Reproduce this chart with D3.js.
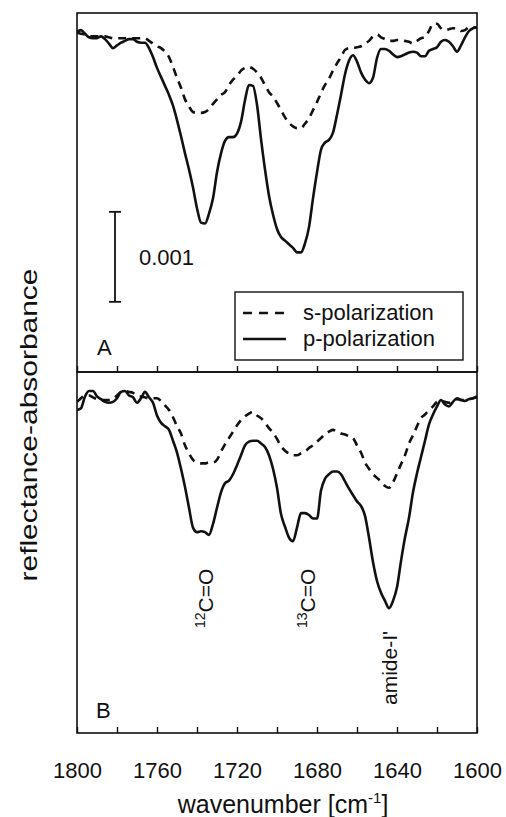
<!DOCTYPE html>
<html>
<head>
<meta charset="utf-8">
<script src="https://cdn.jsdelivr.net/npm/d3@7"></script>
<style>
  body { margin: 0; background: #fff; }
  svg text { font-family: "Liberation Sans", Arial, Helvetica, sans-serif; fill: #111; }
  .frame { fill: none; stroke: #111; stroke-width: 1.6; }
  .p-line { fill: none; stroke: #111; stroke-width: 2.6; stroke-linejoin: round; }
  .s-line { fill: none; stroke: #111; stroke-width: 2.6; stroke-dasharray: 8,6; }
</style>
</head>
<body>
<div id="chart"></div>
<script>
// sampling grid: every 2 cm-1 from 1800 down to 1600
const wavenumber = d3.range(1800, 1599, -2);

// reflectance-absorbance in units of 10^-3
// panel A
const pA = [0.09,0.11,0.07,0.03,0.02,0.02,0.04,0.01,-0.04,-0.09,
  -0.06,-0.03,-0.01,0.01,0.01,-0.02,-0.03,-0.03,-0.09,-0.19,
  -0.31,-0.41,-0.51,-0.61,-0.73,-0.89,-1.07,-1.26,-1.44,-1.64,
  -1.87,-2.03,-2.04,-1.93,-1.76,-1.47,-1.26,-1.12,-1.08,-1.08,
  -1.04,-0.91,-0.67,-0.50,-0.51,-0.72,-1.10,-1.44,-1.73,-1.94,
  -2.10,-2.19,-2.23,-2.27,-2.31,-2.36,-2.36,-2.26,-2.08,-1.76,
  -1.47,-1.22,-1.14,-1.11,-1.03,-0.83,-0.61,-0.38,-0.23,-0.17,
  -0.24,-0.36,-0.44,-0.48,-0.42,-0.20,-0.10,-0.10,-0.12,-0.16,
  -0.19,-0.18,-0.16,-0.14,-0.13,-0.14,-0.18,-0.18,-0.12,-0.10,
  -0.08,-0.02,0.00,-0.02,-0.07,-0.13,-0.06,0.03,0.10,0.13,
  0.14];
const sA = [0.08,0.07,0.06,0.04,0.04,0.04,0.04,0.04,0.03,0.02,
  0.02,0.02,0.02,0.02,0.02,0.02,0.02,0.02,-0.01,-0.04,
  -0.07,-0.09,-0.13,-0.19,-0.30,-0.42,-0.53,-0.66,-0.74,-0.80,
  -0.81,-0.81,-0.80,-0.77,-0.71,-0.66,-0.61,-0.58,-0.50,-0.44,
  -0.40,-0.34,-0.31,-0.30,-0.32,-0.36,-0.42,-0.50,-0.58,-0.63,
  -0.70,-0.78,-0.86,-0.92,-0.96,-0.98,-0.98,-0.93,-0.87,-0.78,
  -0.69,-0.59,-0.50,-0.43,-0.34,-0.26,-0.19,-0.11,-0.09,-0.09,
  -0.08,-0.07,-0.04,-0.01,0.04,0.06,0.03,0.01,-0.01,-0.01,
  0.00,0.00,-0.01,-0.02,-0.04,-0.01,0.02,0.03,0.10,0.18,
  0.18,0.13,0.11,0.12,0.13,0.13,0.10,0.11,0.14,0.14,
  0.14];
// panel B
const pB = [-0.12,-0.10,0.03,0.09,0.09,0.03,0.00,-0.03,-0.04,-0.03,
  0.01,0.08,0.09,0.04,0.02,-0.04,0.01,0.08,0.02,-0.04,
  -0.18,-0.26,-0.30,-0.34,-0.46,-0.59,-0.77,-0.97,-1.20,-1.42,
  -1.47,-1.46,-1.47,-1.50,-1.38,-1.20,-1.03,-0.93,-0.90,-0.83,
  -0.73,-0.62,-0.51,-0.47,-0.46,-0.46,-0.49,-0.53,-0.62,-0.77,
  -0.98,-1.27,-1.41,-1.53,-1.57,-1.42,-1.26,-1.26,-1.28,-1.32,
  -1.32,-1.01,-0.88,-0.83,-0.80,-0.80,-0.83,-0.91,-0.99,-1.06,
  -1.13,-1.18,-1.29,-1.53,-1.80,-2.01,-2.14,-2.23,-2.31,-2.23,
  -2.08,-1.79,-1.53,-1.31,-1.03,-0.82,-0.64,-0.46,-0.28,-0.17,
  -0.08,-0.01,-0.06,-0.08,-0.03,0.01,-0.01,-0.02,0.00,0.01,
  0.03];
const sB = [-0.03,0.01,0.04,0.04,0.02,0.00,-0.01,-0.01,-0.01,0.00,
  0.04,0.08,0.09,0.08,0.07,0.04,0.03,0.02,0.01,0.01,
  0.01,-0.02,-0.07,-0.12,-0.20,-0.30,-0.38,-0.51,-0.60,-0.67,
  -0.70,-0.71,-0.71,-0.70,-0.70,-0.67,-0.58,-0.50,-0.43,-0.36,
  -0.29,-0.23,-0.19,-0.16,-0.14,-0.18,-0.21,-0.26,-0.32,-0.37,
  -0.44,-0.52,-0.57,-0.60,-0.62,-0.62,-0.60,-0.58,-0.54,-0.51,
  -0.47,-0.43,-0.39,-0.36,-0.34,-0.36,-0.38,-0.39,-0.41,-0.43,
  -0.51,-0.59,-0.70,-0.77,-0.83,-0.87,-0.91,-0.96,-0.98,-0.92,
  -0.82,-0.72,-0.62,-0.49,-0.40,-0.30,-0.21,-0.17,-0.12,-0.08,
  -0.03,-0.02,-0.03,-0.04,-0.02,0.00,-0.01,-0.01,0.00,0.01,
  0.02];

const tickMinor = d3.range(1800, 1599, -20);
const tickLabels = [1800, 1760, 1720, 1680, 1640, 1600];
const legendLabels = ["s-polarization", "p-polarization"];
// band assignments in panel B: [wavenumber, superscript, text]
const bands = [[1736, "12", "C=O"], [1685, "13", "C=O"], [1644, "", "amide-I'"]];

const width = 506, height = 817;
const left = 77, right = 477, topA = 13, mid = 372, bottom = 733;

const svg = d3.select("#chart").append("svg")
  .attr("width", width).attr("height", height);

const x = d3.scaleLinear().domain([1800, 1600]).range([left, right]);
const yA = d3.scaleLinear().domain([-3.69, 0.30]).range([mid, topA]);
const yB = d3.scaleLinear().domain([-3.69, 0.30]).range([bottom, mid]);

function lineFor(y) {
  return d3.line()
    .x((d, i) => x(wavenumber[i]))
    .y(d => y(d))
    .curve(d3.curveMonotoneX);
}

// curves
svg.append("path").attr("class", "s-line").attr("d", lineFor(yA)(sA));
svg.append("path").attr("class", "p-line").attr("d", lineFor(yA)(pA));
svg.append("path").attr("class", "s-line").attr("d", lineFor(yB)(sB));
svg.append("path").attr("class", "p-line").attr("d", lineFor(yB)(pB));

// frames
svg.append("rect").attr("class", "frame")
  .attr("x", left).attr("y", topA).attr("width", right - left).attr("height", mid - topA);
svg.append("rect").attr("class", "frame")
  .attr("x", left).attr("y", mid).attr("width", right - left).attr("height", bottom - mid);

// inward ticks at the bottom of each panel
[mid, bottom].forEach(yPos => {
  const g = svg.append("g")
    .attr("transform", `translate(0,${yPos})`)
    .call(d3.axisBottom(x).tickValues(tickMinor).tickSizeInner(-6).tickSizeOuter(0).tickFormat(""));
  g.select(".domain").remove();
  g.selectAll("line").attr("stroke", "#111").attr("stroke-width", 1.4);
});

// tick labels
const lab = svg.append("g")
  .attr("transform", `translate(0,${bottom})`)
  .call(d3.axisBottom(x).tickValues(tickLabels).tickSize(0).tickPadding(29).tickFormat(d3.format("d")));
lab.select(".domain").remove();
lab.selectAll("text")
  .style("font-family", '"Liberation Sans", Arial, sans-serif')
  .style("font-size", "22px").attr("fill", "#111");

// axis titles
const xt = svg.append("text")
  .attr("x", 283).attr("y", 813)
  .attr("text-anchor", "middle")
  .style("font-size", "25px");
xt.append("tspan").text("wavenumber [cm");
xt.append("tspan").attr("dy", -10).style("font-size", "15px").text("-1");
xt.append("tspan").attr("dy", 10).text("]");

svg.append("text")
  .attr("transform", "translate(37,425) rotate(-90)")
  .attr("text-anchor", "middle")
  .attr("textLength", 313)
  .attr("lengthAdjust", "spacingAndGlyphs")
  .style("font-size", "24px")
  .text("reflectance-absorbance");

// panel letters
svg.append("text").attr("x", 97).attr("y", 355).style("font-size", "22px").text("A");
svg.append("text").attr("x", 96).attr("y", 718).style("font-size", "22px").text("B");

// scale bar 0.001
const barW = 1781, barTop = -1.91;
const bx = x(barW);
svg.append("line").attr("x1", bx).attr("x2", bx)
  .attr("y1", yA(barTop)).attr("y2", yA(barTop - 1))
  .attr("stroke", "#111").attr("stroke-width", 1.8);
[barTop, barTop - 1].forEach(v => {
  svg.append("line").attr("x1", bx - 6).attr("x2", bx + 6)
    .attr("y1", yA(v)).attr("y2", yA(v))
    .attr("stroke", "#111").attr("stroke-width", 1.8);
});
svg.append("text").attr("x", bx + 24).attr("y", 265)
  .style("font-size", "22px").text("0.001");

// legend
const lg = svg.append("g");
lg.append("rect").attr("x", 235).attr("y", 292).attr("width", 228).attr("height", 68)
  .attr("fill", "#fff").attr("stroke", "#111").attr("stroke-width", 1.4);
legendLabels.forEach((t, i) => {
  const yy = 313 + i * 26;
  lg.append("line").attr("class", i === 0 ? "s-line" : "p-line")
    .attr("x1", 243).attr("x2", 286).attr("y1", yy).attr("y2", yy)
    .style("stroke-dasharray", i === 0 ? "9,7" : null);
  lg.append("text").attr("x", 303).attr("y", yy + 7)
    .style("font-size", "22px").text(t);
});

// band labels (rotated)
bands.forEach(([w, sup, txt]) => {
  const by = txt === "C=O" ? 628 : 705;
  const t = svg.append("text")
    .attr("transform", `translate(${x(w) + 8},${by}) rotate(-90)`)
    .style("font-size", "21px");
  if (sup) {
    t.append("tspan").attr("dy", -8).style("font-size", "14px").text(sup);
    t.append("tspan").attr("dy", 8).text(txt);
  } else {
    t.append("tspan").text(txt);
  }
});
</script>
</body>
</html>
